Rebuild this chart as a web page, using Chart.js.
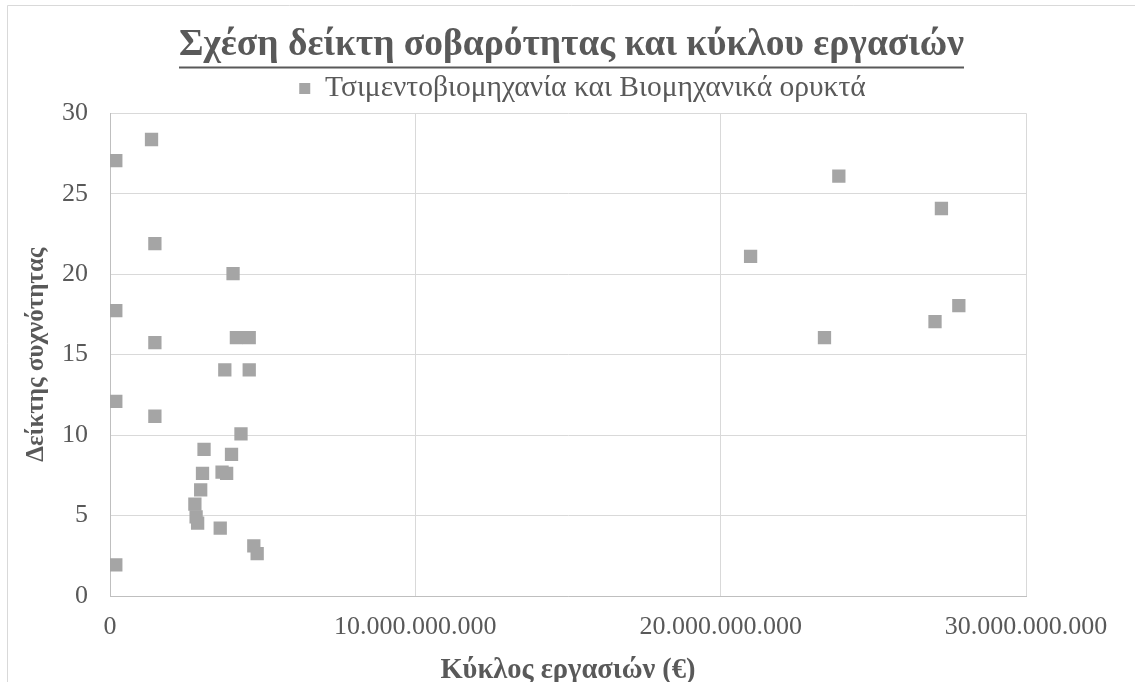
<!DOCTYPE html>
<html>
<head>
<meta charset="utf-8">
<script src="https://cdn.jsdelivr.net/npm/chart.js@4/dist/chart.umd.min.js"></script>
<style>
  html, body { margin: 0; padding: 0; background: #ffffff; }
  #wrap { width: 1135px; height: 682px; position: relative; overflow: hidden; }
</style>
</head>
<body>
<div id="wrap"><canvas id="c" width="1135" height="682"></canvas></div>
<script>
// Labels
const chartTitle = 'Σχέση δείκτη σοβαρότητας και κύκλου εργασιών';
const seriesName = 'Τσιμεντοβιομηχανία και Βιομηχανικά ορυκτά';
const xAxisTitle = 'Κύκλος εργασιών (€)';
const yAxisTitle = 'Δείκτης συχνότητας';

// Turnover per company (€)
const turnover = [
  190000000, 1360000000, 1470000000, 4030000000, 190000000, 1470000000,
  4140000000, 4560000000, 3760000000, 4560000000, 190000000, 1470000000,
  4290000000, 3080000000, 3980000000, 3030000000, 3670000000, 3820000000,
  2970000000, 2780000000, 2820000000, 2870000000, 3610000000, 4710000000,
  4820000000, 190000000,
  23870000000, 27230000000, 20980000000, 27800000000, 27020000000, 23400000000
];
// Index per company
const indexValues = [
  27.06, 28.37, 21.9, 20.03, 17.73, 15.75,
  16.06, 16.06, 14.05, 14.05, 12.1, 11.17,
  10.07, 9.11, 8.8, 7.62, 7.7, 7.62,
  6.6, 5.71, 4.92, 4.53, 4.22, 3.12,
  2.63, 1.94,
  26.09, 24.08, 21.1, 18.04, 17.05, 16.06
];

// Axis ticks
const xTickValues = [0, 10000000000, 20000000000, 30000000000];
const xTickLabels = ['0', '10.000.000.000', '20.000.000.000', '30.000.000.000'];
const yTickValues = [0, 5, 10, 15, 20, 25, 30];

const FONT = '"Liberation Serif", "Times New Roman", serif';
const TEXT = '#595959';
const GRID = '#d9d9d9';
const AXIS = '#bfbfbf';
const MARK = '#a5a5a5';

const points = turnover.map((x, i) => ({ x: x, y: indexValues[i] }));

// Outer frame, title underline and legend offset
const decorations = {
  id: 'decorations',
  afterLayout(chart) {
    const lg = chart.legend;
    if (lg) { lg.left += 11; lg.right += 11; }
  },
  beforeDraw(chart) {
    const ctx = chart.ctx;
    ctx.save();
    ctx.fillStyle = '#ffffff';
    ctx.fillRect(0, 0, chart.width, chart.height);
    ctx.strokeStyle = GRID;
    ctx.lineWidth = 1;
    ctx.beginPath();
    ctx.moveTo(7.5, chart.height);
    ctx.lineTo(7.5, 5.5);
    ctx.lineTo(chart.width, 5.5);
    ctx.stroke();
    ctx.restore();
  },
  afterDraw(chart) {
    const t = chart.titleBlock;
    if (!t) return;
    const f = t.options.font;
    const ctx = chart.ctx;
    ctx.save();
    ctx.font = 'bold ' + f.size + 'px ' + f.family;
    const w = ctx.measureText(chartTitle).width;
    const cx = (t.left + t.right) / 2;
    const pad = Chart.helpers.toPadding(t.options.padding);
    const cy = t.top + pad.top + f.size * f.lineHeight / 2;
    const y = cy + f.size * 0.6;
    ctx.fillStyle = TEXT;
    ctx.fillRect(cx - w / 2, y - 1, w, 2);
    ctx.restore();
  }
};

new Chart(document.getElementById('c'), {
  type: 'scatter',
  data: {
    datasets: [{
      label: seriesName,
      data: points,
      backgroundColor: MARK,
      borderColor: MARK,
      pointStyle: 'rect',
      pointRadius: 9.4,
      pointHoverRadius: 9.4,
      pointBorderWidth: 0
    }]
  },
  options: {
    responsive: false,
    animation: false,
    events: [],
    layout: { padding: { left: 8, right: 0, top: 0, bottom: 0 } },
    plugins: {
      title: {
        display: true,
        text: chartTitle,
        color: TEXT,
        font: { family: FONT, size: 37.5, weight: 'bold', lineHeight: 1.2 },
        padding: { top: 22.5, bottom: 0.25 }
      },
      legend: {
        display: true,
        position: 'top',
        labels: {
          usePointStyle: true,
          boxWidth: 11,
          boxHeight: 11,
          padding: 6,
          color: TEXT,
          font: { family: FONT, size: 29.5 }
        }
      },
      tooltip: { enabled: false }
    },
    scales: {
      x: {
        type: 'linear',
        position: 'bottom',
        min: 0,
        max: 30000000000,
        afterBuildTicks: (s) => { s.ticks = xTickValues.map(v => ({ value: v })); },
        afterFit: (s) => { s.height = 86; },
        ticks: {
          color: TEXT,
          padding: 16,
          maxRotation: 0,
          font: { family: FONT, size: 26 },
          callback: (v) => xTickLabels[xTickValues.indexOf(v)]
        },
        grid: { color: GRID, lineWidth: 1, drawTicks: false },
        border: { color: AXIS, width: 1 },
        title: {
          display: true,
          text: xAxisTitle,
          color: TEXT,
          font: { family: FONT, size: 28.5, weight: 'bold', lineHeight: 0.8 },
          padding: { top: 0, bottom: 0 }
        }
      },
      y: {
        type: 'linear',
        position: 'left',
        min: 0,
        max: 30,
        afterBuildTicks: (s) => { s.ticks = yTickValues.map(v => ({ value: v })); },
        afterFit: (s) => { s.width = 102; },
        ticks: {
          color: TEXT,
          padding: 22,
          font: { family: FONT, size: 26 }
        },
        grid: { color: GRID, lineWidth: 1, drawTicks: false },
        border: { color: AXIS, width: 1 },
        title: {
          display: true,
          text: yAxisTitle,
          color: TEXT,
          font: { family: FONT, size: 25, weight: 'bold', lineHeight: 1.2 },
          padding: { top: 14, bottom: 0 }
        }
      },
      yRight: {
        type: 'linear',
        position: 'right',
        display: true,
        grid: { display: false, drawTicks: false },
        border: { display: false },
        ticks: { display: false },
        afterFit: (s) => { s.width = 109; }
      }
    }
  },
  plugins: [decorations]
});
</script>
</body>
</html>
